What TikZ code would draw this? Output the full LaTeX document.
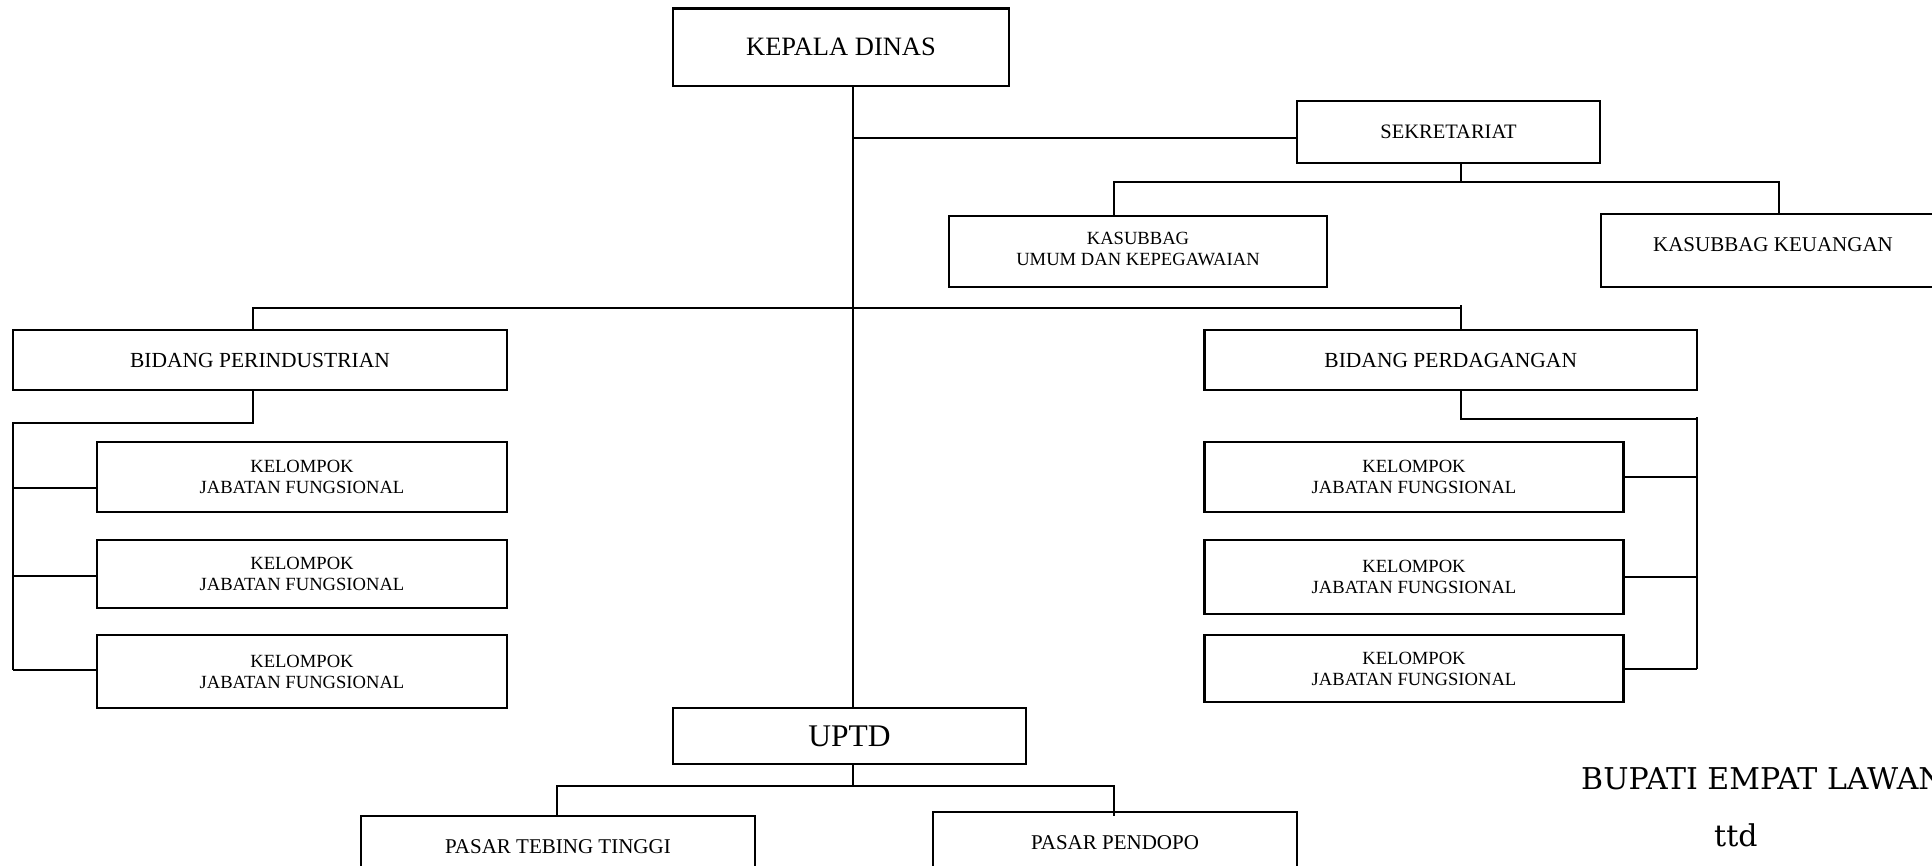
\documentclass[tikz,border=0pt]{standalone}
\usepackage{fontspec}
\setmainfont{Liberation Serif}
\newfontfamily\bupatifont{DejaVu Serif}
\begin{document}
\begin{tikzpicture}[x=1pt,y=-1pt,
  orgbox/.style={draw,line width=2.4pt,inner sep=0pt,align=center,anchor=center},
  conn/.style={line width=2pt},
  fA/.style={font=\fontsize{26.5}{30}\selectfont},
  fB/.style={font=\fontsize{21}{24}\selectfont},
  fC/.style={font=\fontsize{18.6}{21}\selectfont},
  fD/.style={font=\fontsize{31.5}{36}\selectfont}]
\useasboundingbox (0,0) rectangle (1932,865);
\clip (0,0) rectangle (1932,865);

% boxes
\node[orgbox,fA,minimum width=336,minimum height=77.5] (kepala) at (841,47.25) {KEPALA DINAS};
\node[orgbox,fB,font=\fontsize{20.5}{24}\selectfont,minimum width=303,minimum height=62] (sek) at (1448.5,132) {SEKRETARIAT};
\node[orgbox,fC,minimum width=378,minimum height=71,text depth=6pt] (umum) at (1138,251.5) {KASUBBAG\\UMUM DAN KEPEGAWAIAN};
\node[orgbox,fB,minimum width=344,minimum height=73,text depth=12pt] (keu) at (1773,250.5) {KASUBBAG KEUANGAN};
\node[orgbox,fB,font=\fontsize{21.5}{24}\selectfont,minimum width=494,minimum height=60] (perind) at (260,360) {BIDANG PERINDUSTRIAN};
\node[orgbox,fB,font=\fontsize{21.5}{24}\selectfont,minimum width=492.5,minimum height=60] (perdag) at (1450.75,360) {BIDANG PERDAGANGAN};

\node[orgbox,fC,minimum width=410,minimum height=70] (L1) at (302,477) {KELOMPOK\\JABATAN FUNGSIONAL};
\node[orgbox,fC,minimum width=410,minimum height=68] (L2) at (302,574) {KELOMPOK\\JABATAN FUNGSIONAL};
\node[orgbox,fC,minimum width=410,minimum height=73] (L3) at (302,671.5) {KELOMPOK\\JABATAN FUNGSIONAL};

\node[orgbox,fC,minimum width=419,minimum height=70] (R1) at (1414,477) {KELOMPOK\\JABATAN FUNGSIONAL};
\node[orgbox,fC,minimum width=419,minimum height=74] (R2) at (1414,577) {KELOMPOK\\JABATAN FUNGSIONAL};
\node[orgbox,fC,minimum width=419,minimum height=67] (R3) at (1414,668.5) {KELOMPOK\\JABATAN FUNGSIONAL};

\node[orgbox,fD,minimum width=353,minimum height=56] (uptd) at (849.5,736) {UPTD};
\node[orgbox,fB,minimum width=394,minimum height=62] (tebing) at (558,847) {PASAR TEBING TINGGI};
\node[orgbox,fB,minimum width=364,minimum height=62] (pendopo) at (1115,843) {PASAR PENDOPO};

% signature text
\node[anchor=base west,inner sep=0pt,font=\bupatifont\fontsize{30}{34}\selectfont] (bupati) at (1581,789) {BUPATI EMPAT LAWANG};
\node[anchor=base west,inner sep=0pt,font=\bupatifont\fontsize{30}{34}\selectfont] (ttd) at (1714,846) {ttd};

% connector junctions
\coordinate (mx) at (852.5,0);
\coordinate (j1) at (852.5,138);
\coordinate (sb) at (1461,182);
\coordinate (sbl) at (1114,182);
\coordinate (sbr) at (1779,182);
\coordinate (bl) at (253,308);
\coordinate (br) at (1461,308);
\coordinate (brt) at (1461,305);
\coordinate (pd) at (253,423);
\coordinate (pl) at (13,423);
\coordinate (qd) at (1461,419);
\coordinate (qr) at (1697,419);
\coordinate (qrt) at (1697,417);
\coordinate (ud) at (852.5,786);
\coordinate (ubl) at (557,786);
\coordinate (ubr) at (1114,786);
\coordinate (ubre) at (1114,816);

% connectors
\draw[conn] (kepala.south -| mx) -- (uptd.north -| mx);
\draw[conn] (j1) -- (j1 -| sek.west);
\draw[conn] (sek.south -| sb) -- (sb);
\draw[conn] (umum.north -| sbl) -- (sbl) -- (sbr) -- (keu.north -| sbr);
\draw[conn] (perind.north -| bl) -- (bl) -- (br);
\draw[conn] (brt) -- (perdag.north -| br);
\draw[conn] (perind.south -| pd) -- (pd) -- (pl) -- ([yshift=1.5pt]pl |- L3.west);
\draw[conn] ([yshift=-11pt]pl |- L1.west) -- ([yshift=-11pt]L1.west);
\draw[conn] ([yshift=-2pt]pl |- L2.west) -- ([yshift=-2pt]L2.west);
\draw[conn] ([yshift=1.5pt]pl |- L3.west) -- ([yshift=1.5pt]L3.west);
\draw[conn] (perdag.south -| qd) -- (qd) -- (qr);
\draw[conn] (qrt) -- (qr |- R3.east);
\draw[conn] (R1.east) -- (R1.east -| qr);
\draw[conn] (R2.east) -- (R2.east -| qr);
\draw[conn] (R3.east) -- (R3.east -| qr);
\draw[conn] (uptd.south -| ud) -- (ud);
\draw[conn] (tebing.north -| ubl) -- (ubl) -- (ubr) -- (ubre);
\end{tikzpicture}
\end{document}
